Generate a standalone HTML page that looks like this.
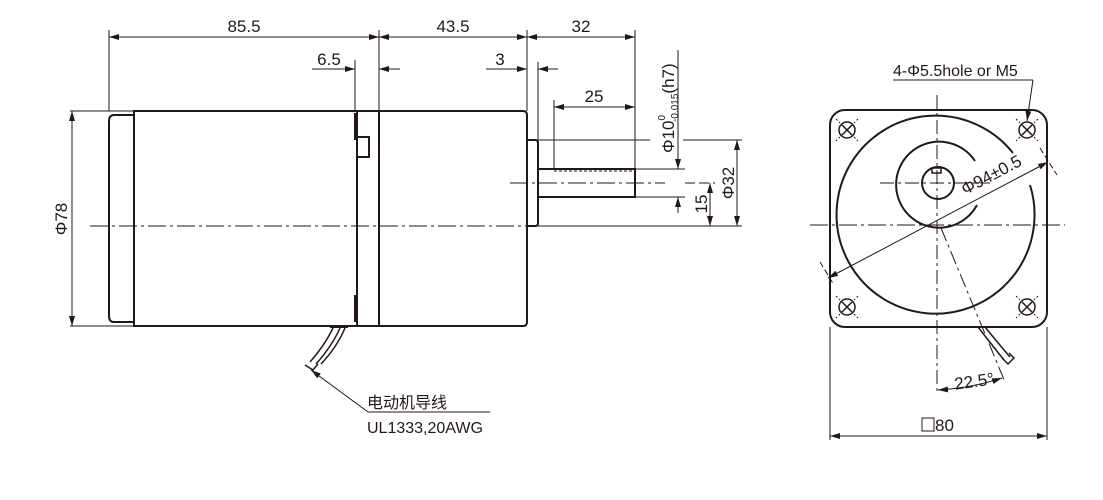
<!DOCTYPE html>
<html><head><meta charset="utf-8"><style>
html,body{margin:0;padding:0;background:#fff;}
svg{display:block;}
text{font-family:"Liberation Sans","Noto Sans CJK SC",sans-serif;fill:#231815;}
</style></head><body>
<svg width="1103" height="500" viewBox="0 0 1103 500" xmlns="http://www.w3.org/2000/svg">
<defs>
<marker id="a" viewBox="0 0 10 6" refX="10" refY="3" markerWidth="10" markerHeight="6" orient="auto-start-reverse" markerUnits="userSpaceOnUse"><path d="M0,0L10,3L0,6z" fill="#231815"/></marker>
</defs>
<g stroke="#231815" fill="none" stroke-width="1">
<!-- top dims -->
<line x1="109" y1="30" x2="109" y2="111"/>
<line x1="379" y1="30" x2="379" y2="111"/>
<line x1="527" y1="30" x2="527" y2="111"/>
<line x1="635" y1="30" x2="635" y2="197"/>
<line x1="355" y1="60" x2="355" y2="111"/>
<line x1="538" y1="62" x2="538" y2="140"/>
<line x1="109" y1="37" x2="379" y2="37" marker-start="url(#a)" marker-end="url(#a)"/>
<line x1="379" y1="37" x2="527" y2="37" marker-start="url(#a)" marker-end="url(#a)"/>
<line x1="527" y1="37" x2="635" y2="37" marker-start="url(#a)" marker-end="url(#a)"/>
<line x1="312" y1="69" x2="355" y2="69" marker-end="url(#a)"/>
<line x1="400" y1="69" x2="379" y2="69" marker-end="url(#a)"/>
<line x1="486" y1="69" x2="527" y2="69" marker-end="url(#a)"/>
<line x1="558" y1="69" x2="538" y2="69" marker-end="url(#a)"/>
<line x1="554" y1="107" x2="635" y2="107" marker-start="url(#a)" marker-end="url(#a)"/>
<line x1="554" y1="100" x2="554" y2="169"/>
<!-- phi78 -->
<line x1="70" y1="111" x2="134" y2="111"/>
<line x1="70" y1="326" x2="134" y2="326"/>
<line x1="72" y1="111" x2="72" y2="326" marker-start="url(#a)" marker-end="url(#a)"/>
<!-- body -->
<g stroke-width="2">
<path d="M134,111 H523 Q527,111 527,115 V322 Q527,326 523,326 H134 Z"/>
<path d="M134,115 H114 Q109,115 109,121 V316 Q109,322 114,322 H134"/>
<line x1="357" y1="111" x2="357" y2="326"/>
<line x1="379" y1="111" x2="379" y2="326"/>
<path d="M357,137 H369 V157 H357"/>
<line x1="355" y1="113" x2="355" y2="140"/>
<line x1="355" y1="295" x2="355" y2="322"/>
<path d="M527,140 H535 Q538,140 538,143 V223 Q538,226 535,226 H527"/>
<path d="M538,169 H635 V197 H538"/>
</g>
<line x1="554" y1="171" x2="635" y2="171" stroke-dasharray="3,2"/>
<!-- center lines -->
<line x1="90" y1="226" x2="540" y2="226" stroke-dasharray="18,4,3,4"/>
<line x1="510" y1="183" x2="665" y2="183" stroke-dasharray="18,4,3,4"/>
<line x1="685" y1="183" x2="715" y2="183" stroke-dasharray="10,4"/>
<!-- right dims -->
<line x1="538" y1="140" x2="650" y2="140"/>
<line x1="683" y1="140" x2="742" y2="140"/>
<line x1="635" y1="169" x2="685" y2="169"/>
<line x1="635" y1="197" x2="685" y2="197"/>
<line x1="538" y1="226" x2="742" y2="226"/>
<line x1="678" y1="50" x2="678" y2="169" marker-end="url(#a)"/>
<line x1="678" y1="213" x2="678" y2="197" marker-end="url(#a)"/>
<line x1="710" y1="183" x2="710" y2="226" marker-start="url(#a)" marker-end="url(#a)"/>
<line x1="737" y1="140" x2="737" y2="226" marker-start="url(#a)" marker-end="url(#a)"/>
<!-- wires left -->
<line x1="330" y1="327" x2="348" y2="327" stroke-width="2"/>
<path d="M333,328 Q325,345 310,362 M340,328 Q332,346 316,364 M345,328 Q337,347 321,364" stroke-width="1.5"/>
<path d="M305,365 L313,370 L318,364" stroke-width="1.5"/>
<line x1="368" y1="412" x2="311" y2="370" marker-end="url(#a)"/>
<line x1="368" y1="412" x2="490" y2="412"/>
<!-- right view -->
<rect x="830" y="110" width="217" height="217" rx="15" stroke-width="2"/>
<path d="M1013,153 A99,99 0 1 0 1030,185" stroke-width="2"/>
<path d="M975,161 A43,43 0 1 0 977,205" stroke-width="2"/>
<circle cx="938" cy="183" r="16" stroke-width="2"/>
<rect x="932" y="168" width="9" height="5" stroke-width="1.5"/>
<line x1="937" y1="95" x2="937" y2="392" stroke-dasharray="14,4,3,4"/>
<line x1="810" y1="225" x2="1065" y2="225" stroke-dasharray="18,4,3,4"/>
<line x1="880" y1="183" x2="990" y2="183" stroke-dasharray="14,4,3,4"/>
<line x1="941" y1="228" x2="1005" y2="382" stroke-dasharray="14,4,3,4"/>
<g stroke-width="1.5">
<circle cx="847" cy="130" r="8"/><circle cx="1027" cy="130" r="8"/>
<circle cx="847" cy="307" r="8"/><circle cx="1027" cy="307" r="8"/>
<path d="M842,125l10,10M852,125l-10,10M1022,125l10,10M1032,125l-10,10M842,302l10,10M852,302l-10,10M1022,302l10,10M1032,302l-10,10"/>
</g>
<path d="M836,119l4,4M854,137l4,4M858,119l-4,4M840,137l-4,4M1016,119l4,4M1034,137l4,4M1038,119l-4,4M1020,137l-4,4M836,296l4,4M854,314l4,4M858,296l-4,4M840,314l-4,4M1016,296l4,4M1034,314l4,4M1038,296l-4,4M1020,314l-4,4" stroke-dasharray="2,2"/>
<line x1="1040" y1="148" x2="1057" y2="175" stroke-dasharray="6,3"/>
<line x1="820" y1="262" x2="834" y2="285" stroke-dasharray="6,3"/>
<line x1="828" y1="278" x2="1048" y2="162" marker-start="url(#a)" marker-end="url(#a)"/>
<!-- leader -->
<line x1="893" y1="80" x2="1033" y2="80"/>
<line x1="1033" y1="80" x2="1027" y2="121" marker-end="url(#a)"/>
<!-- wires right -->
<path d="M978,327 Q992,345 1004,360 M985,327 Q998,343 1010,357" stroke-width="1.5"/>
<path d="M1002,358 L1008,364 L1014,358 L1009,353" stroke-width="1.5"/>
<!-- angle -->
<path d="M938,390 Q972,388 1002,378" marker-start="url(#a)" marker-end="url(#a)"/>
<!-- 80 -->
<line x1="830" y1="327" x2="830" y2="440"/>
<line x1="1047" y1="327" x2="1047" y2="440"/>
<line x1="830" y1="436" x2="1047" y2="436" marker-start="url(#a)" marker-end="url(#a)"/>
<rect x="922" y="418" width="12" height="13" stroke-width="1"/>
</g>
<g font-size="17">
<text x="244" y="32" text-anchor="middle">85.5</text>
<text x="453" y="32" text-anchor="middle">43.5</text>
<text x="581" y="32" text-anchor="middle">32</text>
<text x="329" y="65" text-anchor="middle">6.5</text>
<text x="500" y="65" text-anchor="middle">3</text>
<text x="594" y="102" text-anchor="middle">25</text>
<text transform="translate(67,219) rotate(-90)" text-anchor="middle">Φ78</text>
<text transform="translate(674,153) rotate(-90)">Φ10<tspan font-size="10" dy="-9">0</tspan><tspan font-size="10" dx="-7" dy="13">-0.015</tspan><tspan dy="-4">(h7)</tspan></text>
<text transform="translate(707,204) rotate(-90)" text-anchor="middle">15</text>
<text transform="translate(734,183) rotate(-90)" text-anchor="middle">Φ32</text>
<text x="893" y="76" font-size="16">4-Φ5.5hole or M5</text>
<text transform="translate(994,180) rotate(-27.8)" text-anchor="middle">Φ94±0.5</text>
<text transform="translate(975,387) rotate(-8)" text-anchor="middle">22.5°</text>
<text x="935" y="431">80</text>
<text x="367" y="408" font-size="16">电动机导线</text>
<text x="367" y="433" font-size="16">UL1333,20AWG</text>
</g>
</svg>
</body></html>
